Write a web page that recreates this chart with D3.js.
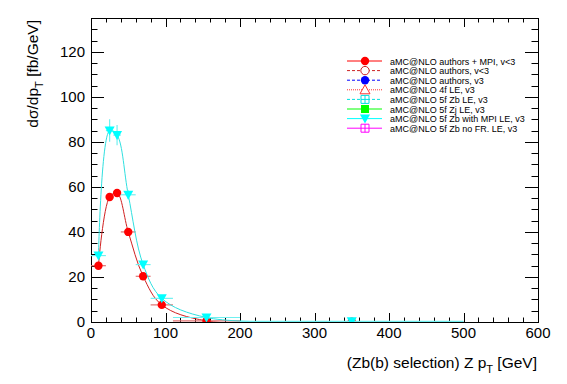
<!DOCTYPE html>
<html>
<head>
<meta charset="utf-8">
<script src="https://cdn.jsdelivr.net/npm/d3@7"></script>
<style>
  body { margin: 0; background: #fff; }
  svg { display: block; font-family: "Liberation Sans", Arial, sans-serif; }
</style>
</head>
<body>
<svg id="chart" width="567" height="384"></svg>
<script>
// bins of Z pT (GeV)
const binLo = [0, 20, 30, 40, 60, 80, 110, 200];
const binHi = [20, 30, 40, 60, 80, 110, 200, 500];
const binMid = [10, 25, 35, 50, 70, 95, 155, 350];

// aMC@NLO authors + MPI, v<3
const authorsMpi = [25, 55.5, 57.3, 40, 20.3, 7.6, 0.5, 0.1];
const authorsMpiErr = [1, 1.2, 1.2, 1, 0.8, 0.4, 0.1, 0.02];

// aMC@NLO 5f Zb with MPI LE, v3
const zbMpi = [29.5, 85, 83, 56.5, 25.5, 10.5, 2, 0.3];
const zbMpiErr = [1.5, 5, 4.5, 2, 1.2, 0.6, 0.2, 0.05];

const xTicks = [0, 100, 200, 300, 400, 500, 600];
const yTicks = [0, 20, 40, 60, 80, 100, 120];

const legendLabels = [
  "aMC@NLO authors + MPI, v<3",
  "aMC@NLO authors, v<3",
  "aMC@NLO authors, v3",
  "aMC@NLO 4f LE, v3",
  "aMC@NLO 5f Zb LE, v3",
  "aMC@NLO 5f Zj LE, v3",
  "aMC@NLO 5f Zb with MPI LE, v3",
  "aMC@NLO 5f Zb no FR. LE, v3",
];
const legendStyle = [
  { color: "#ff0000", dash: null, shape: "circle", fill: true },
  { color: "#cc2222", dash: "3,2", shape: "circle", fill: false },
  { color: "#0000ff", dash: "3,2", shape: "circle", fill: true },
  { color: "#ff3030", dash: "1,1", shape: "triUp", fill: false },
  { color: "#00e0e0", dash: "3,2", shape: "squareX", fill: false },
  { color: "#00ff00", dash: null, shape: "square", fill: true },
  { color: "#00ffff", dash: null, shape: "triDown", fill: true },
  { color: "#ff00ff", dash: null, shape: "squarePlus", fill: false },
];

const svg = d3.select("#chart");
const m = { left: 91, right: 538, top: 18, bottom: 322 };

const x = d3.scaleLinear().domain([0, 600]).range([m.left, m.right]);
const y = d3.scaleLinear().domain([0, 135]).range([m.bottom, m.top]);

svg.append("defs").append("clipPath").attr("id", "clip")
  .append("rect")
  .attr("x", m.left).attr("y", m.top)
  .attr("width", m.right - m.left).attr("height", m.bottom - m.top);

/* Frame and ticks (ROOT style, ticks inside on all four sides) */
const ax = svg.append("g").attr("stroke", "#000").attr("stroke-width", 1);
ax.append("rect")
  .attr("x", m.left + 0.5).attr("y", m.top + 0.5)
  .attr("width", m.right - m.left).attr("height", m.bottom - m.top)
  .attr("fill", "none");

d3.range(0, 601, 20).forEach((v) => {
  const len = v % 100 === 0 ? 9 : 4.5;
  const px = Math.round(x(v)) + 0.5;
  ax.append("line").attr("x1", px).attr("x2", px)
    .attr("y1", m.bottom).attr("y2", m.bottom - len);
  ax.append("line").attr("x1", px).attr("x2", px)
    .attr("y1", m.top).attr("y2", m.top + len);
});
d3.range(0, 136, 5).forEach((v) => {
  const len = v % 20 === 0 ? 13 : 6.5;
  const py = Math.round(y(v)) + 0.5;
  ax.append("line").attr("y1", py).attr("y2", py)
    .attr("x1", m.left).attr("x2", m.left + len);
  ax.append("line").attr("y1", py).attr("y2", py)
    .attr("x1", m.right).attr("x2", m.right - len);
});

svg.append("g").selectAll("text").data(xTicks).join("text")
  .attr("x", (d) => x(d)).attr("y", 338)
  .attr("text-anchor", "middle")
  .attr("font-size", 15)
  .text((d) => d);

svg.append("g").selectAll("text").data(yTicks).join("text")
  .attr("x", 85).attr("y", (d) => y(d) + 5)
  .attr("text-anchor", "end")
  .attr("font-size", 15)
  .text((d) => d);

/* Axis titles */
const xt = svg.append("text")
  .attr("x", 537).attr("y", 368)
  .attr("text-anchor", "end")
  .attr("font-size", 15.5);
xt.append("tspan").text("(Zb(b) selection) Z p");
xt.append("tspan").attr("dy", 5).attr("font-size", 11).text("T");
xt.append("tspan").attr("dy", -5).text(" [GeV]");

const yt = svg.append("text")
  .attr("transform", "translate(38,20) rotate(-90)")
  .attr("text-anchor", "end")
  .attr("font-size", 15.5);
yt.append("tspan").text("dσ/dp");
yt.append("tspan").attr("dy", 5).attr("font-size", 11).text("T");
yt.append("tspan").attr("dy", -5).text(" [fb/GeV]");

/* Series */
const plot = svg.append("g").attr("clip-path", "url(#clip)");

function markerPath(shape) {
  if (shape === "circle") return d3.symbol(d3.symbolCircle, 55)();
  if (shape === "triDown") return "M-5,-4L5,-4L0,5Z";
  if (shape === "triUp") return "M-5,4L5,4L0,-5Z";
  return "M-4,-4H4V4H-4Z";
}

function drawSeries(vals, errs, color, lineColor, barColor, shape) {
  const pts = binMid.map((d, i) => [x(d), y(vals[i])]);
  plot.append("path")
    .attr("d", d3.line().curve(d3.curveCatmullRom.alpha(0.5))(pts))
    .attr("fill", "none")
    .attr("stroke", lineColor)
    .attr("stroke-width", 1);

  const g = plot.append("g").attr("stroke", barColor).attr("stroke-width", 1.2);
  binMid.forEach((d, i) => {
    g.append("line")
      .attr("x1", x(binLo[i])).attr("x2", x(binHi[i]))
      .attr("y1", y(vals[i])).attr("y2", y(vals[i]));
    g.append("line")
      .attr("x1", x(d)).attr("x2", x(d))
      .attr("y1", y(vals[i] - errs[i])).attr("y2", y(vals[i] + errs[i]));
  });

  plot.append("g").selectAll("path").data(binMid).join("path")
    .attr("transform", (d, i) => `translate(${x(d)},${y(vals[i])})`)
    .attr("d", markerPath(shape))
    .attr("fill", color);
}

drawSeries(authorsMpi, authorsMpiErr, "#ff0000", "#d02020", "#e07070", "circle");
drawSeries(zbMpi, zbMpiErr, "#00ffff", "#30e0e0", "#70f0f0", "triDown");

/* Legend */
const lg = svg.append("g");
legendLabels.forEach((label, i) => {
  const st = legendStyle[i];
  const ly = 61 + i * 9.6;
  lg.append("line")
    .attr("x1", 347).attr("x2", 382).attr("y1", ly).attr("y2", ly)
    .attr("stroke", st.color).attr("stroke-width", 1)
    .attr("stroke-dasharray", st.dash);
  const mk = lg.append("g").attr("transform", `translate(365,${ly})`);
  mk.append("path")
    .attr("d", markerPath(st.shape))
    .attr("fill", st.fill ? st.color : "#fff")
    .attr("stroke", st.color)
    .attr("stroke-width", st.fill ? 0 : 1);
  if (st.shape === "squareX" || st.shape === "squarePlus") {
    mk.append("path").attr("d", "M-4,0H4M0,-4V4").attr("stroke", st.color);
  }
  lg.append("text")
    .attr("x", 390).attr("y", ly + 3.5)
    .attr("font-size", 9)
    .text(label);
});
</script>
</body>
</html>
